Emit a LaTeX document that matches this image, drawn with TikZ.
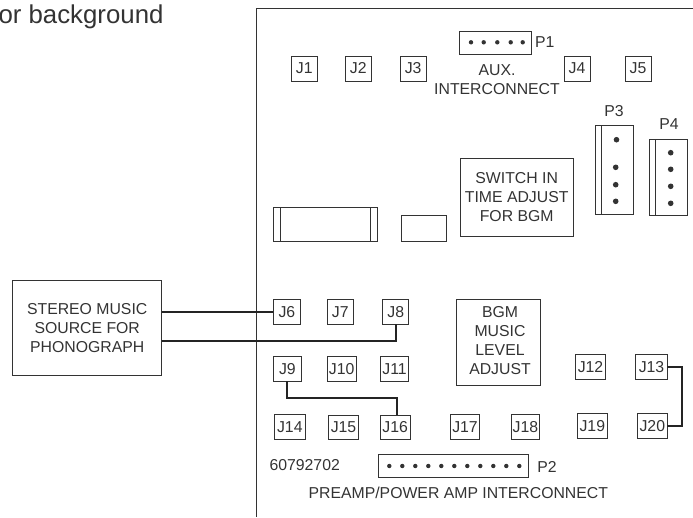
\documentclass[tikz,border=0pt]{standalone}
\usepackage{fontspec}
\setmainfont{Liberation Sans}
\definecolor{ink}{HTML}{333333}
\tikzset{
  boxnode/.style={draw=ink,line width=1pt,inner sep=0pt,outer sep=0pt,text=ink,align=center,font=\fontsize{15.8}{18.8}\selectfont},
  txt/.style={inner sep=0pt,outer sep=0pt,text=ink,align=center,font=\fontsize{15.8}{19}\selectfont},
  wire/.style={draw=ink!70!black,line width=2.2pt,line cap=butt,line join=miter},
  edge/.style={draw=ink,line width=1pt},
  pin/.style={fill=ink,draw=none}
}
\newcommand{\bx}[6]{%
  \pgfmathsetmacro{\cx}{(#2+#4)/2}\pgfmathsetmacro{\cy}{(#3+#5)/2}%
  \pgfmathsetmacro{\ww}{#4-#2}\pgfmathsetmacro{\hh}{#5-#3}%
  \node[boxnode,minimum width=\ww pt,minimum height=\hh pt] (#1) at (\cx,\cy) {#6};}
\begin{document}
\begin{tikzpicture}[x=1pt,y=-1pt]
\useasboundingbox (0,0) rectangle (693,517);
% board outline
\coordinate (bTR) at (693,8.3);
\coordinate (bTL) at (256.7,8.3);
\coordinate (bBL) at (256.7,517);
\draw[edge] (bTR) -- (bTL) -- (bBL);
\node[txt,anchor=east,font=\fontsize{25.8}{30}\selectfont] (cap) at (163.5,17) {or background};
% source box
\bx{src}{12.7}{280.7}{161.7}{375}{STEREO MUSIC\\SOURCE FOR\\PHONOGRAPH}
% jacks
\bx{J1}{291.3}{56}{317.3}{81}{J1}
\bx{J2}{345.3}{56}{371.3}{81}{J2}
\bx{J3}{400.3}{56}{426}{81}{J3}
\bx{J4}{564}{56}{590}{81}{J4}
\bx{J5}{625}{56}{651}{81}{J5}
\bx{J6}{273}{299.3}{300.7}{324}{J6}
\bx{J7}{327.3}{299.3}{353.3}{324}{J7}
\bx{J8}{382.7}{299.3}{408.7}{324}{J8}
\bx{J9}{273}{356.7}{301.7}{381}{J9}
\bx{J10}{327.3}{356.7}{356}{381}{J10}
\bx{J11}{380.3}{356.7}{408.7}{381}{J11}
\bx{J12}{575.3}{354.7}{605.7}{379.3}{J12}
\bx{J13}{635.7}{354.7}{667.3}{379.3}{J13}
\bx{J14}{274.3}{414.7}{305.3}{439.3}{J14}
\bx{J15}{328.7}{415}{358.3}{439.3}{J15}
\bx{J16}{380.3}{415}{410}{439.3}{J16}
\bx{J17}{450.3}{414.7}{479.7}{439.3}{J17}
\bx{J18}{511}{414.7}{539.7}{439.3}{J18}
\bx{J19}{577.3}{413.3}{607.3}{438.3}{J19}
\bx{J20}{637.3}{413.3}{667.3}{438.3}{J20}
% P1
\bx{P1}{459.7}{31.7}{531}{54.3}{}
\foreach \px in {471,483.7,497.3,510.7,522.7}{\fill[pin] (\px,42.3) circle (2.2);}
\node[txt,anchor=west] (P1t) at (535,41.7) {P1};
\node[txt] (auxt) at (497,80) {AUX.\\INTERCONNECT};
% P3
\bx{P3}{595.3}{125.7}{633.7}{214.3}{}
\draw[edge] (601.3,125.7) -- (601.3,214.3);
\fill[pin] (616.5,139.7) circle (2.8);
\foreach \py in {167.3,184.7,201.3}{\fill[pin] (615.7,\py) circle (2.8);}
\node[txt] (P3t) at (614,111) {P3};
% P4
\bx{P4}{649.7}{139}{687.7}{215}{}
\draw[edge] (655.3,139) -- (655.3,215);
\foreach \py in {152.7,169.3,186.3,203.3}{\fill[pin] (670.7,\py) circle (2.8);}
\node[txt] (P4t) at (669,124) {P4};
% switch box
\bx{sw}{460.3}{158.3}{573.3}{236.7}{}
\node[txt] (swt) at (516.7,196.8) {SWITCH IN\\TIME ADJUST\\FOR BGM};
% component blocks
\bx{long}{273}{207.3}{377.7}{241.3}{}
\draw[edge] (280,207.3) -- (280,241.3);
\draw[edge] (370,207.3) -- (370,241.3);
\bx{small}{401}{215.3}{446.7}{241.3}{}
% BGM box
\bx{bgm}{456}{299.3}{540.3}{385.3}{}
\node[txt] (bgmt) at (500,341) {BGM\\MUSIC\\LEVEL\\ADJUST};
% P2
\bx{P2}{378.3}{454.7}{528.3}{477.3}{}
\foreach \i in {0,...,10}{\fill[pin] (389.3+13*\i,466) circle (2.2);}
\node[txt,anchor=west] (P2t) at (537.3,467.3) {P2};
\node[txt] (part) at (304.7,465.3) {60792702};
\node[txt] (pre) at (458.3,493.3) {PREAMP/POWER AMP INTERCONNECT};
% wiring
\coordinate (s6) at (src.east |- J6.west);
\coordinate (s8) at (161.7,340.8);
\coordinate (m916) at (396.7,397.7);
\coordinate (r1320) at (681.7,368);
\draw[wire] (s6) -- (J6.west);
\draw[wire] (s8) -| (J8.south);
\draw[wire] (J9.south) |- (m916) -- (m916 |- J16.north);
\draw[wire] (J13.east) -| (r1320) |- (J20.east);
\end{tikzpicture}
\end{document}
